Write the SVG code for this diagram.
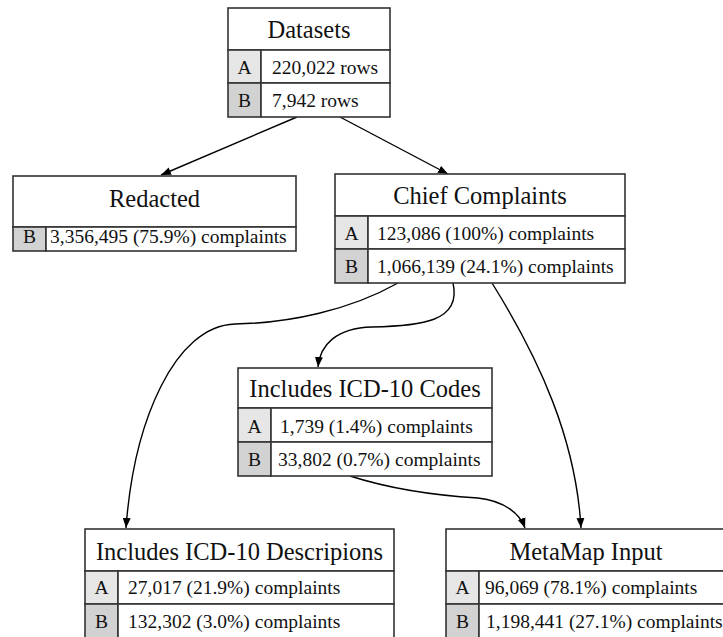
<svg xmlns="http://www.w3.org/2000/svg" width="723" height="637" viewBox="0 0 723 637">
<defs>
<marker id="ah" viewBox="0 0 10 10" refX="10" refY="5" markerWidth="10" markerHeight="10" markerUnits="userSpaceOnUse" orient="auto">
<path d="M0,1 L10,5 L0,9 Z" fill="#000"/>
</marker>
<style>
.box{fill:#fff;stroke:#333;stroke-width:1.6}
.la{fill:#e6e6e6;stroke:#333;stroke-width:1.6}
.lb{fill:#d2d2d2;stroke:#333;stroke-width:1.6}
.t{font-family:"Liberation Serif","Times New Roman",serif;font-size:24.5px;fill:#111;text-anchor:middle}
.r{font-family:"Liberation Serif","Times New Roman",serif;font-size:19.5px;fill:#111}
.c{text-anchor:middle}
.e{fill:none;stroke:#000;stroke-width:1.4;marker-end:url(#ah)}
</style>
</defs>
<rect width="723" height="637" fill="#fff"/>
<g id="connectors">
<path class="e" d="M297,117 L161,175"/>
<path class="e" d="M340,117 L448,174"/>
<path class="e" d="M398,283 C350,310 290,323 235,324 C175,326 134,420 126,528"/>
<path class="e" d="M453,283 C462,322 420,326 372,327 C336,328 320,345 318,367"/>
<path class="e" d="M492,283 C540,360 576,440 581,528"/>
<path class="e" d="M350,476 C400,492 445,496 478,498 C505,501 520,514 525,528"/>
</g>
<g id="datasets">
<rect class="box" x="228" y="8" width="162" height="42"/>
<rect class="la" x="228" y="50" width="33" height="33"/>
<rect class="box" x="261" y="50" width="129" height="33"/>
<rect class="lb" x="228" y="83" width="33" height="34"/>
<rect class="box" x="261" y="83" width="129" height="34"/>
<text class="t" x="309" y="38">Datasets</text>
<text class="r c" x="244.5" y="74">A</text>
<text class="r" x="272" y="74">220,022 rows</text>
<text class="r c" x="244.5" y="107">B</text>
<text class="r" x="272" y="107">7,942 rows</text>
</g>
<g id="redacted">
<rect class="box" x="13" y="176" width="283" height="51"/>
<rect class="lb" x="13" y="227" width="33" height="24"/>
<rect class="box" x="46" y="227" width="250" height="24"/>
<text class="t" x="154.5" y="207">Redacted</text>
<text class="r c" x="29.5" y="243">B</text>
<text class="r" x="50" y="243">3,356,495 (75.9%) complaints</text>
</g>
<g id="chief">
<rect class="box" x="335" y="174" width="290" height="42"/>
<rect class="la" x="335" y="216" width="33" height="33"/>
<rect class="box" x="368" y="216" width="257" height="33"/>
<rect class="lb" x="335" y="249" width="33" height="34"/>
<rect class="box" x="368" y="249" width="257" height="34"/>
<text class="t" x="480" y="204">Chief Complaints</text>
<text class="r c" x="351.5" y="240">A</text>
<text class="r" x="377" y="240">123,086 (100%) complaints</text>
<text class="r c" x="351.5" y="273">B</text>
<text class="r" x="377" y="273">1,066,139 (24.1%) complaints</text>
</g>
<g id="codes">
<rect class="box" x="238" y="368" width="254" height="40"/>
<rect class="la" x="238" y="408" width="33" height="34"/>
<rect class="box" x="271" y="408" width="221" height="34"/>
<rect class="lb" x="238" y="442" width="33" height="34"/>
<rect class="box" x="271" y="442" width="221" height="34"/>
<text class="t" x="365" y="397">Includes ICD-10 Codes</text>
<text class="r c" x="254.5" y="433">A</text>
<text class="r" x="280" y="433">1,739 (1.4%) complaints</text>
<text class="r c" x="254.5" y="466">B</text>
<text class="r" x="278" y="466">33,802 (0.7%) complaints</text>
</g>
<g id="descriptions">
<rect class="box" x="85" y="529" width="309" height="42"/>
<rect class="la" x="85" y="571" width="33" height="33"/>
<rect class="box" x="118" y="571" width="276" height="33"/>
<rect class="lb" x="85" y="604" width="33" height="36"/>
<rect class="box" x="118" y="604" width="276" height="36"/>
<text class="t" x="239.5" y="560">Includes ICD-10 Descripions</text>
<text class="r c" x="101.5" y="594">A</text>
<text class="r" x="128" y="594">27,017 (21.9%) complaints</text>
<text class="r c" x="101.5" y="628">B</text>
<text class="r" x="128" y="628">132,302 (3.0%) complaints</text>
</g>
<g id="metamap">
<rect class="box" x="446" y="529" width="280" height="42"/>
<rect class="la" x="446" y="571" width="33" height="33"/>
<rect class="box" x="479" y="571" width="247" height="33"/>
<rect class="lb" x="446" y="604" width="33" height="36"/>
<rect class="box" x="479" y="604" width="247" height="36"/>
<text class="t" x="586" y="560">MetaMap Input</text>
<text class="r c" x="462.5" y="594">A</text>
<text class="r" x="485" y="594">96,069 (78.1%) complaints</text>
<text class="r c" x="462.5" y="628">B</text>
<text class="r" x="486" y="628">1,198,441 (27.1%) complaints</text>
</g>
</svg>
